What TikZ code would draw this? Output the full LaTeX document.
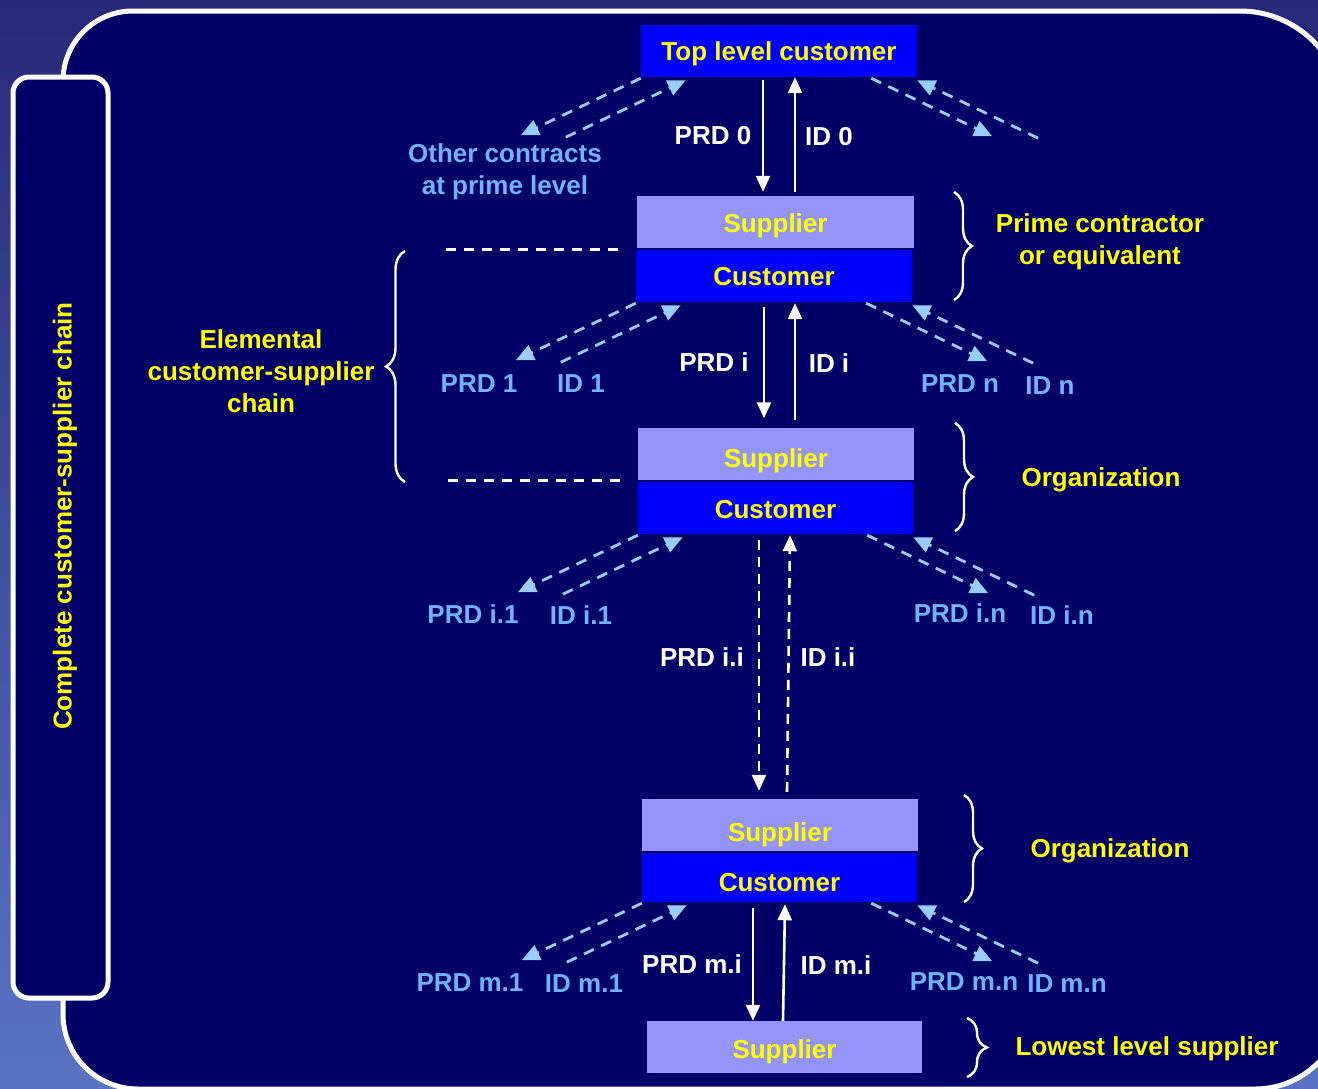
\documentclass[tikz,border=0pt]{standalone}
\usepackage{fontspec}
\setmainfont{Liberation Sans}
\usetikzlibrary{arrows.meta,calc,decorations.pathreplacing}

\definecolor{panelnavy}{RGB}{0,0,102}
\definecolor{custblue}{RGB}{0,0,255}
\definecolor{suplilac}{RGB}{148,148,250}
\definecolor{labyellow}{RGB}{255,255,0}
\definecolor{linkblue}{RGB}{153,204,255}
\definecolor{linktext}{RGB}{110,180,255}
\definecolor{bgtop}{RGB}{40,40,120}
\definecolor{bgbottom}{RGB}{90,115,195}

% Pair of side contracts leaving a customer box at both bottom corners
\newcommand\contractfan[1]{%
  \draw[contract] ($(#1.south west)+(0,1)$) -- ($(#1.south west)+(-120,58)$);
  \draw[contract] ($(#1.south west)+(-75,60)$) -- ($(#1.south west)+(45,3)$);
  \draw[contract] ($(#1.south east)+(-46,1)$) -- ($(#1.south east)+(75,59)$);
  \draw[contract] ($(#1.south east)+(121,61)$) -- ($(#1.south east)+(0,3)$);
}
% Box caption lowered by the given amount
\newcommand\lowered[2]{\raisebox{-#1}{#2}}

\begin{document}
\begin{tikzpicture}[x=1pt,y=-1pt,
  font=\fontsize{26}{32}\selectfont\bfseries,
  every node/.style={inner sep=0pt},
  txt/.style={text height=19pt,text depth=0pt},
  custbox/.style={fill=custblue,minimum width=276pt,minimum height=52pt,text=labyellow,txt},
  supbox/.style={fill=suplilac,minimum width=276pt,minimum height=52pt,text=labyellow,txt},
  flow/.style={white,line width=2.6pt,-{Triangle[length=16pt,width=14pt]}},
  flowdash/.style={flow,dash pattern=on 10pt off 7pt},
  contract/.style={linkblue,line width=2.8pt,dash pattern=on 11pt off 8pt,-{Triangle[length=18pt,width=16pt]}},
  tier/.style={white,line width=2.6pt,dash pattern=on 10pt off 8pt},
  curly/.style={white,line width=2.4pt,decorate,decoration={brace,amplitude=#1}},
  curly/.default=18pt,
  flowlbl/.style={text=white,txt},
  contractlbl/.style={text=linktext,txt},
  rolelbl/.style={text=labyellow,align=center},
]
\clip (0,0) rectangle (1318,1088);
\shade[top color=bgtop,bottom color=bgbottom] (0,0) rectangle (1318,1088);

% main panel
\draw[white,line width=5pt,fill=panelnavy]
  (63,1014) -- (63,81) arc[start angle=180,end angle=270,radius=70]
  -- (1240,11) arc[start angle=270,end angle=360,radius=104]
  -- (1344,1000) arc[start angle=0,end angle=90,radius=89]
  -- (138,1089) arc[start angle=90,end angle=180,radius=75] -- cycle;

% side panel
\node[draw=white,line width=5pt,fill=panelnavy,rounded corners=16pt,
      minimum width=95pt,minimum height=921pt] (chainpanel) at (60.5,537.5) {};
\node[rotate=90,text=labyellow,txt] (chainlbl) at (62,516) {Complete customer-supplier chain};

% chain of organizations
\node[custbox] (top) at (779,51) {Top level customer};
\node[supbox,minimum width=277pt] (s0) at (775.5,222) {\lowered{1pt}{Supplier}};
\node[custbox] (c0) at (774,276) {Customer};
\node[supbox] (s1) at (776,453.5) {\lowered{4pt}{Supplier}};
\node[custbox,minimum width=275pt] (c1) at (775.5,508) {\lowered{1pt}{Customer}};
\node[supbox] (s2) at (780,825) {\lowered{7pt}{Supplier}};
\node[custbox,minimum width=275pt,minimum height=49pt] (c2) at (779.5,877.5) {\lowered{4pt}{Customer}};
\node[supbox,minimum width=275pt] (s3) at (784.5,1047) {\lowered{2pt}{Supplier}};

% requirements down, deliveries up
\draw[flow] ($(top.south)+(-16,3)$) -- ($(s0.north)+(-12.5,-4)$);
\draw[flow] ($(s0.north)+(19.5,-4)$) -- ($(top.south)+(16,0)$);
\draw[flow] ($(c0.south)+(-10,5)$) -- ($(s1.north)+(-12,-9)$);
\draw[flow] ($(s1.north)+(19,-7)$) -- ($(c0.south)+(21,1)$);
\draw[flowdash] ($(c1.south)+(-16.5,6)$) -- ($(s2.north)+(-21,-8)$);
\draw[flowdash] ($(s2.north)+(7,-7)$) -- ($(c1.south)+(14.5,1)$);
\draw[flow] ($(c2.south)+(-26.5,6)$) -- ($(s3.north)+(-31.5,0)$);
\draw[flow] ($(s3.north)+(-1.5,0)$) -- ($(c2.south)+(5.5,2)$);

\node[flowlbl] (prd0) at (713,135) {PRD 0};
\node[flowlbl] (id0) at (829,136) {ID 0};
\node[flowlbl] (prdi) at (714,362) {PRD i};
\node[flowlbl] (idi) at (829,363) {ID i};
\node[flowlbl] (prdii) at (702,657) {PRD i.i};
\node[flowlbl] (idii) at (828,657) {ID i.i};
\node[flowlbl] (prdmi) at (692,964) {PRD m.i};
\node[flowlbl] (idmi) at (836,965) {ID m.i};

% side contracts
\contractfan{top}
\contractfan{c0}
\contractfan{c1}
\contractfan{c2}

\node[text=linktext,align=center] (otherlbl) at (505,172) {Other contracts\\at prime level};
\node[contractlbl] (prd1) at (479,383) {PRD 1};
\node[contractlbl] (id1) at (581,383) {ID 1};
\node[contractlbl] (prdn) at (960,383) {PRD n};
\node[contractlbl] (idn) at (1050,385) {ID n};
\node[contractlbl] (prdi1) at (473,614) {PRD i.1};
\node[contractlbl] (idi1) at (581,615) {ID i.1};
\node[contractlbl] (prdin) at (960,613) {PRD i.n};
\node[contractlbl] (idin) at (1062,615) {ID i.n};
\node[contractlbl] (prdm1) at (470,982) {PRD m.1};
\node[contractlbl] (idm1) at (584,983) {ID m.1};
\node[contractlbl] (prdmn) at (964,981) {PRD m.n};
\node[contractlbl] (idmn) at (1067,983) {ID m.n};

% elemental chain boundaries
\draw[tier] ($(s0.south west)+(-191,1)$) -- ($(s0.south west)+(-12,1)$);
\draw[tier] ($(s1.south west)+(-190,1)$) -- ($(s1.south west)+(-11,1)$);
\draw[curly=19pt] (405,482) -- (405,251);
\node[rolelbl] (elemlbl) at (261,371) {Elemental\\customer-supplier\\chain};

% role braces
\draw[curly] (954,192) -- (954,300);
\draw[curly] (955,423) -- (955,531);
\draw[curly] (964,795) -- (964,902);
\draw[curly=20pt] (967,1018) -- (967,1077);
\node[rolelbl] (primelbl) at (1100,242) {Prime contractor\\or equivalent};
\node[rolelbl,txt] (org1lbl) at (1101,477) {Organization};
\node[rolelbl,txt] (org2lbl) at (1110,848) {Organization};
\node[rolelbl,txt] (lowlbl) at (1147,1046) {Lowest level supplier};
\end{tikzpicture}
\end{document}
